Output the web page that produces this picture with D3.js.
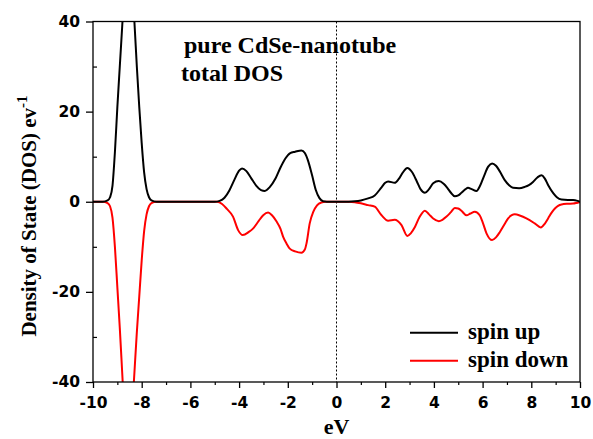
<!DOCTYPE html>
<html><head><meta charset="utf-8">
<script src="https://cdn.jsdelivr.net/npm/d3@7"></script>
<style>body{margin:0;background:#fff}</style>
</head><body>
<svg id="c" width="593" height="439"></svg>
<script>
const xTicks = [-10,-8,-6,-4,-2,0,2,4,6,8,10];
const yTicks = [-40,-20,0,20,40];
const upEnergy = [-10,-9.6,-9.4,-9.3,-9.2,-9.1,-9.0,-8.9,-8.8,-8.7,-8.6,-8.55,-8.5,-8.4,-8.3,-8.2,-8.1,-8.0,-7.9,-7.8,-7.7,-7.6,-7.4,-5.0,-4.8,-4.6,-4.4,-4.2,-4.0,-3.88,-3.7,-3.5,-3.3,-3.1,-2.94,-2.75,-2.5,-2.3,-2.1,-1.9,-1.7,-1.44,-1.3,-1.15,-1.0,-0.85,-0.7,-0.55,-0.4,0.5,0.75,1.0,1.3,1.57,1.85,2.0,2.12,2.39,2.55,2.7,2.91,3.1,3.3,3.45,3.63,3.8,3.97,4.2,4.4,4.55,4.7,4.86,5.0,5.13,5.3,5.4,5.55,5.75,5.9,6.05,6.23,6.39,6.55,6.7,6.91,7.1,7.25,7.5,7.73,7.9,8.07,8.25,8.42,8.55,8.7,8.9,9.05,9.24,9.5,9.72,9.9,10];
const upDos = [0,0,0.3,1.0,3.5,11,21,30,39,48,56,58,56,48,40,30,21,13,6.5,2.8,1.0,0.3,0,0,0.2,0.9,2.5,4.8,6.9,7.4,6.8,5.2,3.6,2.6,2.4,3.2,5.2,7.6,9.6,10.8,11.1,11.4,10.8,8.8,5.8,2.6,0.8,0.1,0,0,0.1,0.3,0.75,1.4,3.2,4.2,4.5,4.2,5.0,6.3,7.5,6.6,4.5,2.8,2.0,2.8,4.1,4.6,4.0,3.1,2.0,1.2,1.4,2.0,2.8,3.1,2.8,2.4,3.6,5.6,7.8,8.5,8.0,6.8,4.8,3.6,3.1,3.0,3.3,3.7,4.4,5.4,5.9,5.2,3.6,1.9,1.0,0.5,0.4,0.4,0.2,0];
const downEnergy = [-10,-9.6,-9.4,-9.3,-9.2,-9.1,-9.0,-8.9,-8.8,-8.7,-8.6,-8.55,-8.5,-8.4,-8.3,-8.2,-8.1,-8.0,-7.9,-7.8,-7.7,-7.6,-7.4,-4.9,-4.7,-4.5,-4.25,-4.04,-3.85,-3.6,-3.42,-3.2,-3.01,-2.81,-2.65,-2.46,-2.3,-2.19,-2.05,-1.92,-1.7,-1.44,-1.3,-1.23,-1.1,-0.95,-0.8,-0.62,-0.45,0.5,0.75,1.0,1.3,1.57,1.85,2.12,2.39,2.67,2.91,3.05,3.22,3.4,3.63,3.8,3.97,4.2,4.35,4.52,4.7,4.86,5.0,5.13,5.34,5.5,5.68,5.88,6.0,6.16,6.39,6.55,6.71,6.9,7.05,7.32,7.55,7.8,8.14,8.39,8.55,8.69,8.85,8.97,9.1,9.24,9.5,9.72,9.9,10];
const downDos = [0,0,-0.3,-1.0,-3.5,-10,-19,-28,-38,-48,-56,-58,-56,-47,-38,-29,-21,-13,-6.5,-2.8,-1.0,-0.3,0,0,-0.5,-1.6,-3.3,-6.3,-7.4,-6.7,-5.9,-4.3,-3.0,-2.4,-3.0,-4.4,-6.0,-7.8,-9.3,-10.4,-11.0,-11.3,-10.6,-9.2,-4.8,-2.2,-0.8,-0.15,0,0,-0.1,-0.35,-0.75,-1.1,-3.0,-4.2,-4.0,-5.2,-7.6,-7.0,-5.6,-3.5,-2.0,-2.8,-3.7,-4.3,-4.0,-3.3,-2.3,-1.4,-1.5,-2.0,-3.0,-2.6,-2.2,-3.0,-4.5,-7.0,-8.5,-7.9,-6.7,-5.0,-3.7,-2.8,-3.1,-3.7,-4.8,-5.7,-4.9,-3.7,-2.3,-1.5,-0.9,-0.6,-0.45,-0.4,-0.2,-0.1];
const series = [
  {name:"spin up", color:"#000000", energy:upEnergy, dos:upDos},
  {name:"spin down", color:"#ff0000", energy:downEnergy, dos:downDos}
];

const svg = d3.select("#c");
const L=93, R=580, T=21.5, B=382;
const x = d3.scaleLinear().domain([-10,10]).range([L,R]);
const y = d3.scaleLinear().domain([-40,40]).range([B,T]);
const serif = "'Liberation Serif','Times New Roman',serif";
const sans = "'DejaVu Sans',Verdana,sans-serif";

svg.append("clipPath").attr("id","clip").append("rect")
  .attr("x",L).attr("y",T).attr("width",R-L).attr("height",B-T);

// zero line
svg.append("line").attr("x1",x(0)).attr("x2",x(0)).attr("y1",T).attr("y2",B)
  .attr("stroke","#000").attr("stroke-width",1).attr("stroke-dasharray","2,2");

const line = d3.line().x(d=>x(d[0])).y(d=>y(d[1])).curve(d3.curveMonotoneX);
const g = svg.append("g").attr("clip-path","url(#clip)");
series.slice().reverse().forEach(s=>{
  g.append("path").datum(s.energy.map((e,i)=>[e,s.dos[i]]))
    .attr("d",line).attr("fill","none").attr("stroke",s.color)
    .attr("stroke-width",2).attr("stroke-linejoin","round");
});

// frame
svg.append("rect").attr("x",L).attr("y",T).attr("width",R-L).attr("height",B-T)
  .attr("fill","none").attr("stroke","#000").attr("stroke-width",1.3);

// axes
const xAxis = d3.axisBottom(x).tickValues(xTicks).tickSize(6).tickFormat(d3.format("d"));
const gx = svg.append("g").attr("transform",`translate(0,${B})`).call(xAxis);
gx.select(".domain").remove();
gx.selectAll(".tick line").attr("stroke-width",1.3);
gx.selectAll(".tick text").attr("font-family",sans).attr("font-weight","bold")
  .attr("font-size",15.5).attr("y",26).attr("dy",0).attr("fill","#000")
  .text(d=>d<0?"-"+Math.abs(d):d);
const xMinor = d3.axisBottom(x).tickValues(d3.range(-9,10,2)).tickSize(3).tickFormat("");
const gxm = svg.append("g").attr("transform",`translate(0,${B})`).call(xMinor);
gxm.select(".domain").remove();
gxm.selectAll(".tick line").attr("stroke-width",1.2);

const yAxis = d3.axisLeft(y).tickValues(yTicks).tickSize(7).tickFormat(d3.format("d"));
const gy = svg.append("g").attr("transform",`translate(${L},0)`).call(yAxis);
gy.select(".domain").remove();
gy.selectAll(".tick line").attr("stroke-width",1.3);
gy.selectAll(".tick text").attr("font-family",sans).attr("font-weight","bold")
  .attr("font-size",15.5).attr("x",-13).attr("fill","#000")
  .text(d=>d<0?"-"+Math.abs(d):d);
const yMinor = d3.axisRight(y).tickValues([-30,-10,10,30]).tickSize(4).tickFormat("");
const gym = svg.append("g").attr("transform",`translate(${L},0)`).call(yMinor);
gym.select(".domain").remove();
gym.selectAll(".tick line").attr("stroke-width",1.2);

// axis titles
svg.append("text").attr("x",x(0)).attr("y",434).attr("text-anchor","middle")
  .attr("font-family",serif).attr("font-weight","bold").attr("font-size",22).text("eV");
const yl = svg.append("text").attr("transform",`translate(36,216) rotate(-90)`)
  .attr("text-anchor","middle").attr("font-family",serif).attr("font-weight","bold").attr("font-size",21);
yl.append("tspan").text("Density of State (DOS) ev");
yl.append("tspan").attr("dy",-9).attr("font-size",15).text("-1");

// annotation
svg.append("text").attr("x",184).attr("y",53).attr("font-family",serif).attr("font-weight","bold")
  .attr("font-size",24).text("pure CdSe-nanotube");
svg.append("text").attr("x",181).attr("y",81).attr("font-family",serif).attr("font-weight","bold")
  .attr("font-size",24).text("total DOS");

// legend
series.forEach((s,i)=>{
  const ly = 332.7 + i*28;
  svg.append("line").attr("x1",410).attr("x2",458).attr("y1",ly).attr("y2",ly)
    .attr("stroke",s.color).attr("stroke-width",2);
  svg.append("text").attr("x",468).attr("y",ly+6.5).attr("font-family",serif)
    .attr("font-weight","bold").attr("font-size",23).text(s.name);
});
</script>
</body></html>
